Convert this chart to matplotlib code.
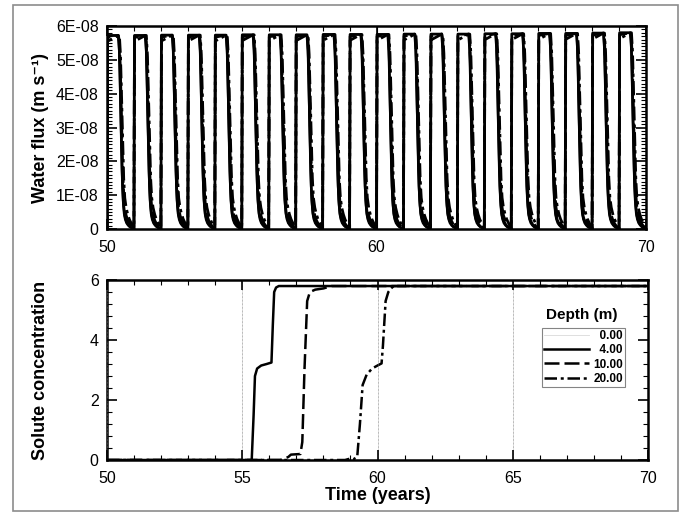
import numpy as np
import matplotlib
matplotlib.use("Agg")
from matplotlib import pyplot as plt
from matplotlib.ticker import MultipleLocator, FixedLocator, FixedFormatter
from matplotlib.patches import Rectangle

plt.rcParams['font.family'] = ['Liberation Sans', 'DejaVu Sans']

# ---- data ----
# water flux: one pulse every year, same shape each year
cycle_years = [50, 51, 52, 53, 54, 55, 56, 57, 58, 59,
               60, 61, 62, 63, 64, 65, 66, 67, 68, 69]
peak_flux = [5.72e-8, 5.72e-8, 5.73e-8, 5.73e-8, 5.73e-8, 5.74e-8, 5.74e-8,
             5.74e-8, 5.75e-8, 5.75e-8, 5.75e-8, 5.76e-8, 5.76e-8, 5.76e-8,
             5.77e-8, 5.77e-8, 5.78e-8, 5.78e-8, 5.79e-8, 5.80e-8]
# time within a cycle (years) and flux as a fraction of the peak
pulse_offset = [0.0, 0.02, 0.42, 0.46, 0.50, 0.54, 0.58, 0.62, 0.66, 0.71,
                0.77, 0.83, 0.90, 0.96, 1.0]
pulse_d0 = [0, 1.0, 1.0, 0.85, 0.55, 0.30, 0.15, 0.08, 0.05, 0.030,
            0.018, 0.010, 0.005, 0.002, 0]
pulse_d4 = [0, 1.0, 1.0, 0.92, 0.68, 0.42, 0.22, 0.12, 0.07, 0.045,
            0.028, 0.016, 0.008, 0.003, 0]
pulse_d10 = [0, 0.99, 1.0, 0.97, 0.80, 0.55, 0.32, 0.18, 0.11, 0.070,
             0.045, 0.028, 0.015, 0.006, 0]
pulse_d20 = [0, 0.97, 1.0, 1.0, 0.90, 0.68, 0.44, 0.26, 0.16, 0.110,
             0.075, 0.050, 0.030, 0.012, 0]

flux_ticks = [0, 1e-8, 2e-8, 3e-8, 4e-8, 5e-8, 6e-8]
flux_ticklabels = ['0', '1E-08', '2E-08', '3E-08', '4E-08', '5E-08', '6E-08']

# solute concentration at each depth
t_4m = [50, 55.35, 55.42, 55.47, 55.55, 55.7, 55.9, 56.08, 56.13, 56.18, 56.25, 56.35, 70]
c_4m = [0, 0, 1.5, 2.8, 3.05, 3.15, 3.2, 3.25, 4.5, 5.6, 5.75, 5.8, 5.8]
t_10m = [50, 56.4, 56.55, 56.7, 56.8, 57.15, 57.22, 57.3, 57.4, 57.5, 57.7, 58.0, 58.3, 70]
c_10m = [0, 0, 0.05, 0.1, 0.18, 0.2, 0.6, 3.0, 5.3, 5.6, 5.68, 5.72, 5.8, 5.8]
t_20m = [50, 58.8, 59.0, 59.1, 59.25, 59.35, 59.45, 59.6, 59.8, 60.0, 60.15, 60.2,
         60.3, 60.4, 60.5, 60.6, 70]
c_20m = [0, 0, 0.05, 0.02, 0.1, 1.2, 2.5, 2.85, 3.05, 3.15, 3.22, 3.8,
         5.3, 5.6, 5.72, 5.8, 5.8]

depth_labels = ['\u20070.00', '\u20074.00', '10.00', '20.00']


def tile_pulses(shape):
    t, f = [], []
    for yr, pk in zip(cycle_years, peak_flux):
        t.extend([yr + o for o in pulse_offset])
        f.extend([pk * s for s in shape])
    return t, f


fig = plt.figure(figsize=(6.85, 5.16), dpi=100)
ax1 = fig.add_axes([0.1562, 0.5562, 0.7869, 0.3934])
ax2 = fig.add_axes([0.1562, 0.1085, 0.7898, 0.3488])

# outer frame of the scanned figure
fig.patches.append(Rectangle((0.019, 0.0097), 0.971, 0.98, transform=fig.transFigure,
                             fill=False, edgecolor='0.55', lw=1.2))

# ---- top panel: water flux ----
dash = (0, (6, 2))
dashdot = (0, (5, 1.5, 1.2, 1.5))
styles = [('-', 1.2), ('-', 2.0), (dash, 2.0), (dashdot, 2.0)]
for shape, (ls, lw) in zip([pulse_d0, pulse_d4, pulse_d10, pulse_d20], styles):
    t, f = tile_pulses(shape)
    ax1.plot(t, f, color='k', ls=ls, lw=lw)

ax1.set_xlim(50, 70)
ax1.set_ylim(0, 6e-8)
ax1.xaxis.set_major_locator(MultipleLocator(10))
ax1.xaxis.set_minor_locator(MultipleLocator(1))
ax1.yaxis.set_major_locator(FixedLocator(flux_ticks))
ax1.yaxis.set_major_formatter(FixedFormatter(flux_ticklabels))
ax1.yaxis.set_minor_locator(MultipleLocator(1e-9))
ax1.grid(axis='x', which='major', color='k', lw=0.8)
ax1.set_ylabel('Water flux (m s\u207b\u00b9)', fontsize=13, fontweight='bold')
ax1.yaxis.set_label_coords(-0.108, 0.5)

# ---- bottom panel: solute concentration ----
ax2.plot([], [], color='0.85', lw=0.6, label=depth_labels[0])
ax2.plot(t_4m, c_4m, color='k', lw=1.8, label=depth_labels[1])
ax2.plot(t_10m, c_10m, color='k', lw=1.8, ls=dash, label=depth_labels[2])
ax2.plot(t_20m, c_20m, color='k', lw=1.8, ls=dashdot, label=depth_labels[3])

ax2.set_xlim(50, 70)
ax2.set_ylim(0, 6)
ax2.xaxis.set_major_locator(MultipleLocator(5))
ax2.xaxis.set_minor_locator(MultipleLocator(1))
ax2.yaxis.set_major_locator(MultipleLocator(2))
ax2.yaxis.set_minor_locator(MultipleLocator(0.4))
ax2.grid(axis='x', which='major', color='0.45', lw=0.5, ls=(0, (1, 1)))
ax2.set_ylabel('Solute concentration', fontsize=13, fontweight='bold')
ax2.yaxis.set_label_coords(-0.108, 0.5)
ax2.set_xlabel('Time (years)', fontsize=13, fontweight='bold')
ax2.xaxis.set_label_coords(0.5, -0.15)

ax2.text(0.878, 0.806, 'Depth (m)', transform=ax2.transAxes, ha='center', va='center',
         fontsize=11, fontweight='bold')
leg = ax2.legend(loc='upper left', bbox_to_anchor=(0.804, 0.733), borderaxespad=0,
                 fancybox=False, frameon=True, handlelength=3.8, handletextpad=0.4,
                 borderpad=0.15, labelspacing=0.2,
                 prop={'size': 8.5, 'weight': 'bold'})
leg.get_frame().set_edgecolor('0.4')
leg.get_frame().set_linewidth(0.8)

for ax in (ax1, ax2):
    for sp in ax.spines.values():
        sp.set_linewidth(1.8)
    ax.tick_params(which='both', direction='in', top=True, right=True, labelsize=11.5)
    ax.tick_params(which='major', length=7, width=1.2, pad=6)
    ax.tick_params(which='minor', length=3.5, width=0.8)
    ax.tick_params(axis='x', which='major', pad=8)
    ax.set_axisbelow(False)

plt.savefig('out.png', dpi=100)
